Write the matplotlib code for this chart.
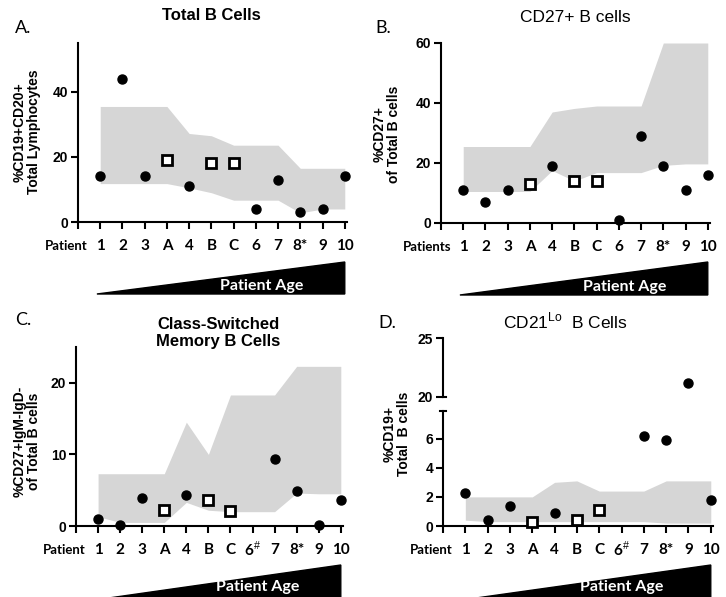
import numpy as np
import matplotlib
matplotlib.use('Agg')
import matplotlib.pyplot as plt
from matplotlib.patches import Polygon
from matplotlib.transforms import blended_transform_factory

plt.rcParams['font.family'] = ['Liberation Sans', 'DejaVu Sans']
plt.rcParams['mathtext.fontset'] = 'custom'
plt.rcParams['mathtext.rm'] = 'Liberation Sans'
plt.rcParams['mathtext.bf'] = 'Liberation Sans:bold'

### data
labels_ab = ['1', '2', '3', 'A', '4', 'B', 'C', '6', '7', '8*', '9', '10']
labels_cd = ['1', '2', '3', 'A', '4', 'B', 'C', '6$^{\\#}$', '7', '8*', '9', '10']
controls = ['A', 'B', 'C']

total_b = [14, 44, 14, 19, 11, 18, 18, 4, 13, 3, 4, 14]
total_b_hi = [35.5, 35.5, 35.5, 35.5, 27.2, 26.5, 23.6, 23.6, 23.6, 16.5, 16.5, 16.5]
total_b_lo = [11.8, 11.8, 11.8, 11.8, 10.5, 9.0, 6.7, 6.7, 6.7, 2.8, 4.0, 4.0]

cd27 = [11, 7, 11, 13, 19, 14, 14, 1, 29, 19, 11, 16]
cd27_hi = [25.5, 25.5, 25.5, 25.5, 37.0, 38.2, 39.0, 39.0, 39.0, 60, 60, 60]
cd27_lo = [10.5, 10.5, 10.5, 10.5, 17.5, 14.0, 16.8, 16.8, 16.8, 19.2, 19.7, 19.7]

csm = [1.0, 0.2, 3.9, 2.2, 4.3, 3.6, 2.1, np.nan, 9.4, 4.9, 0.1, 3.6]
csm_hi = [7.3, 7.3, 7.3, 7.3, 14.5, 10.0, 18.3, 18.3, 18.3, 22.3, 22.3, 22.3]
csm_lo = [1.3, 0.5, 0.5, 0.5, 3.3, 2.2, 2.0, 2.0, 2.0, 4.6, 4.5, 4.5]

cd21lo = [2.3, 0.4, 1.4, 0.3, 0.9, 0.4, 1.1, np.nan, 6.2, 5.9, 21.2, 1.8]
cd21lo_hi = [2.0, 2.0, 2.0, 2.0, 3.0, 3.1, 2.4, 2.4, 2.4, 3.1, 3.1, 3.1]
cd21lo_lo = [0.4, 0.3, 0.3, 0.3, 0.3, 0.3, 0.3, 0.3, 0.3, 0.2, 0.2, 0.2]

W, H = 726, 597
fig = plt.figure(figsize=(W / 100, H / 100), dpi=100)
grey = '#d6d6d6'


def px_axes(left, top, right, bottom):
    return fig.add_axes([left / W, 1 - bottom / H, (right - left) / W, (bottom - top) / H])


def style(ax, yticks):
    for s in ['top', 'right']:
        ax.spines[s].set_visible(False)
    for s in ['left', 'bottom']:
        ax.spines[s].set_linewidth(1.5)
    ax.set_yticks(yticks, [str(t) for t in yticks], fontweight='bold', fontsize=10)
    ax.tick_params(direction='out', length=5, width=1.5, pad=2)


def points(ax, labels, vals, lo=None, hi=None):
    x = np.arange(len(labels))
    v = np.array(vals, dtype=float)
    if lo is not None:
        v = np.where((v >= lo) & (v <= hi), v, np.nan)
    ctrl = np.array([l in controls for l in labels])
    ax.plot(x[~ctrl], v[~ctrl], 'o', color='k', ms=6.5, zorder=5, clip_on=False)
    ax.plot(x[ctrl], v[ctrl], 's', mfc='white', mec='k', mew=2, ms=7.5, zorder=5, clip_on=False)


def xaxis(ax, labels, word):
    x = np.arange(len(labels))
    ax.set_xlim(-1, 11.1)
    ax.set_xticks(np.arange(-1, len(labels)))
    ax.set_xticklabels([])
    tr = blended_transform_factory(ax.transData, ax.transAxes)
    for xi, lab in zip(x, labels):
        ax.annotate(lab, xy=(xi, 0), xycoords=tr, xytext=(0, -17), textcoords='offset points',
                    ha='center', va='center', fontsize=11, fontweight='bold', family='Lato')
    ax.annotate(word, xy=(-0.55, 0), xycoords=tr, xytext=(0, -17), textcoords='offset points',
                ha='right', va='center', fontsize=9.5, fontweight='bold', family='Lato')


def wedge(ax, y_base, y_top, text_x, text_y):
    tr = blended_transform_factory(ax.transData, fig.transFigure)
    poly = Polygon([(-0.15, 1 - y_base / H), (11, 1 - y_top / H), (11, 1 - y_base / H)],
                   closed=True, color='k', transform=tr, clip_on=False, zorder=6)
    ax.add_patch(poly)
    ax.text(text_x, 1 - text_y / H, 'Patient Age', transform=tr, color='white', ha='center',
            va='center', fontsize=11.5, fontweight='bold', family='Lato', zorder=7)


### A. Total B cells
axA = px_axes(78, 43, 347, 222)
axA.fill_between(np.arange(12), total_b_lo, total_b_hi, color=grey, lw=0, zorder=1)
points(axA, labels_ab, total_b)
axA.set_ylim(0, 55)
style(axA, [0, 20, 40])
xaxis(axA, labels_ab, 'Patient')
wedge(axA, 294, 262, 7.25, 286)
fig.text(211 / W, 1 - 15 / H, 'Total B Cells', ha='center', va='center', fontsize=12, fontweight='bold')
fig.text(15 / W, 1 - 28 / H, 'A.', ha='left', va='center', fontsize=13, family='Lato')
fig.text(27 / W, 1 - 132 / H, '%CD19+CD20+\nTotal Lymphocytes', rotation=90, ha='center', va='center',
         fontsize=10, fontweight='bold', linespacing=1.0)

### B. CD27+ B cells
axB = px_axes(441, 43, 710, 223)
axB.fill_between(np.arange(12), cd27_lo, cd27_hi, color=grey, lw=0, zorder=1)
points(axB, labels_ab, cd27)
axB.set_ylim(0, 60)
style(axB, [0, 20, 40, 60])
xaxis(axB, labels_ab, 'Patients')
wedge(axB, 295, 262, 7.25, 287)
fig.text(575 / W, 1 - 17 / H, 'CD27+ B cells', ha='center', va='center', fontsize=12.5)
fig.text(375 / W, 1 - 28 / H, 'B.', ha='left', va='center', fontsize=13, family='Lato')
fig.text(387 / W, 1 - 134 / H, '%CD27+\nof Total B cells', rotation=90, ha='center', va='center',
         fontsize=10, fontweight='bold', linespacing=1.0)

### C. Class-switched memory B cells
axC = px_axes(76, 347, 343, 526)
axC.fill_between(np.arange(12), csm_lo, csm_hi, color=grey, lw=0, zorder=1)
points(axC, labels_cd, csm)
axC.set_ylim(0, 25)
style(axC, [0, 10, 20])
xaxis(axC, labels_cd, 'Patient')
wedge(axC, 600, 565, 7.25, 587)
fig.text(218 / W, 1 - 333 / H, 'Class-Switched\nMemory B Cells', ha='center', va='center', fontsize=12,
         fontweight='bold', linespacing=1.1)
fig.text(15 / W, 1 - 320 / H, 'C.', ha='left', va='center', fontsize=13, family='Lato')
fig.text(27 / W, 1 - 441 / H, '%CD27+IgM-IgD-\nof Total B cells', rotation=90, ha='center', va='center',
         fontsize=10, fontweight='bold', linespacing=1.0)

### D. CD21lo B cells (broken y axis)
axD = px_axes(443, 411, 713, 526)
axD.fill_between(np.arange(12), cd21lo_lo, cd21lo_hi, color=grey, lw=0, zorder=1)
points(axD, labels_cd, cd21lo, 0, 7.9)
axD.set_ylim(0, 7.9)
style(axD, [0, 2, 4, 6])
xaxis(axD, labels_cd, 'Patient')
wedge(axD, 600, 565, 7.0, 587)

axD2 = px_axes(443, 338, 713, 397)
axD2.set_xlim(-1, 11.1)
axD2.set_ylim(20, 25)
points(axD2, labels_cd, cd21lo, 20, 25)
style(axD2, [20, 25])
axD2.spines['bottom'].set_visible(False)
axD2.set_xticks([])
axD2.patch.set_alpha(0)
# break marks
trD = blended_transform_factory(axD.transAxes, axD.transData)
axD.plot([-0.012, 0.012], [7.9, 7.9], color='k', lw=1.5, clip_on=False, transform=trD)
trD2 = blended_transform_factory(axD2.transAxes, axD2.transData)
axD2.plot([0, 0.012], [20, 20], color='k', lw=1.5, clip_on=False, transform=trD2)

fig.text(565 / W, 1 - 321 / H, 'CD21$^{\\mathrm{Lo}}$  B Cells', ha='center', va='center', fontsize=12.5)
fig.text(378 / W, 1 - 323 / H, 'D.', ha='left', va='center', fontsize=13, family='Lato')
fig.text(397 / W, 1 - 434 / H, '%CD19+\nTotal  B cells', rotation=90, ha='center', va='center',
         fontsize=10, fontweight='bold', linespacing=1.0)

fig.savefig('out.png', dpi=100, facecolor='white')
